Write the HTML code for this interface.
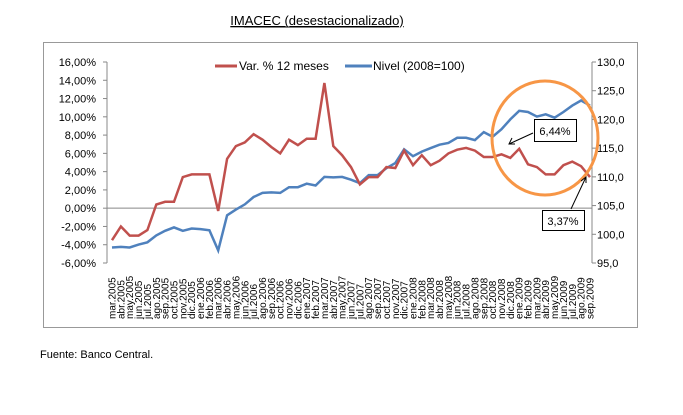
<!DOCTYPE html>
<html><head><meta charset="utf-8"><style>
body{margin:0;background:#fff;width:683px;height:410px;overflow:hidden;font-family:"Liberation Sans","DejaVu Sans",sans-serif}
</style></head><body>
<svg id="s" width="683" height="410" xmlns="http://www.w3.org/2000/svg" font-family="Liberation Sans, DejaVu Sans, sans-serif">
<text x="317" y="25" font-size="13" text-anchor="middle" text-decoration="underline">IMACEC (desestacionalizado)</text>
<line x1="244" y1="27" x2="390" y2="27" stroke="#000" stroke-width="1"/>
<rect x="43.5" y="42.5" width="594" height="285" fill="none" stroke="#999"/>
<text x="40" y="358" font-size="11">Fuente: Banco Central.</text>
<g id="g"></g>
</svg>
<script>
var g=document.getElementById('g'),NS='http://www.w3.org/2000/svg';
function el(t,a,txt){var e=document.createElementNS(NS,t);for(var k in a)e.setAttribute(k,a[k]);if(txt)e.textContent=txt;g.appendChild(e);return e;}
var L=107,R=592,T=62,B=263;
el('line',{x1:L,y1:T,x2:L,y2:B,stroke:'#888'});
el('line',{x1:R,y1:T,x2:R,y2:B,stroke:'#888'});
for(var i=0;i<12;i++){var v=16-2*i,y=T+(16-v)*(B-T)/22;
el('line',{x1:L-4,y1:y,x2:L,y2:y,stroke:'#888'});
el('text',{x:96,y:y+4,'font-size':11,'text-anchor':'end'},v.toFixed(2).replace('.',',')+'%');}
for(var i=0;i<8;i++){var v=130-5*i,y=T+(130-v)*(B-T)/35;
el('line',{x1:R,y1:y,x2:R+4,y2:y,stroke:'#888'});
el('text',{x:597,y:y+4,'font-size':11},v.toFixed(1).replace('.',','));}
var y0=T+16*(B-T)/22;el('line',{x1:L,y1:y0,x2:R,y2:y0,stroke:'#888'});
var m=['mar','abr','may','jun','jul','ago','sep','oct','nov','dic','ene','feb'];
var x0=112,dx=(590-112)/54;
for(var i=0;i<55;i++){var mi=i%12,yr=2005+Math.floor((i+2)/12);var x=x0+i*dx;
el('text',{transform:'translate('+(x+3.5)+',319) rotate(-90)','font-size':10},m[mi]+'.'+yr);}
var red=[-3.5,-2.0,-3.0,-3.0,-2.4,0.4,0.7,0.7,3.4,3.7,3.7,3.7,-0.3,5.4,6.8,7.2,8.1,7.5,6.7,6.0,7.5,6.9,7.6,7.6,13.7,6.8,5.8,4.5,2.6,3.4,3.4,4.5,4.4,6.3,4.7,5.8,4.7,5.2,6.0,6.4,6.6,6.3,5.6,5.6,5.9,5.5,6.5,4.8,4.5,3.7,3.7,4.7,5.1,4.6,4.5,3.4];
red.splice(54,1);
var blue=[97.7,97.8,97.7,98.2,98.6,99.8,100.6,101.2,100.6,101.0,100.9,100.7,97.2,103.3,104.3,105.2,106.5,107.2,107.3,107.2,108.2,108.2,108.8,108.5,110.0,109.9,110.0,109.5,108.9,110.3,110.3,111.5,112.4,114.8,113.6,114.4,115.0,115.6,115.9,116.8,116.8,116.4,117.8,117.0,118.3,120.0,121.5,121.3,120.5,120.9,120.3,121.3,122.4,123.3,122.4];
var pb=blue.map(function(v,i){return (x0+i*dx).toFixed(1)+','+(T+(130-v)*(B-T)/35).toFixed(1)}).join(' ');
var pr=red.map(function(v,i){return (x0+i*dx).toFixed(1)+','+(T+(16-v)*(B-T)/22).toFixed(1)}).join(' ');
el('polyline',{points:pb,fill:'none',stroke:'#4F81BD','stroke-width':2.5});
el('polyline',{points:pr,fill:'none',stroke:'#C0504D','stroke-width':2.5});
el('line',{x1:215,y1:66,x2:237,y2:66,stroke:'#C0504D','stroke-width':3});
el('text',{x:239,y:70,'font-size':12},'Var. % 12 meses');
el('line',{x1:345,y1:66,x2:372,y2:66,stroke:'#4F81BD','stroke-width':3});
el('text',{x:373,y:70,'font-size':12},'Nivel (2008=100)');
el('ellipse',{cx:545,cy:138,rx:53,ry:57,fill:'none',stroke:'#F79646','stroke-width':3});
el('rect',{x:534.5,y:119.5,width:42,height:22,fill:'#fff',stroke:'#000'});
el('text',{x:555,y:135,'font-size':11,'text-anchor':'middle'},'6,44%');
el('rect',{x:542.5,y:210.5,width:42,height:20,fill:'#fff',stroke:'#000'});
el('text',{x:563,y:225,'font-size':11,'text-anchor':'middle'},'3,37%');
el('line',{x1:533,y1:133,x2:509,y2:144,stroke:'#000'});
el('polyline',{points:'512,138 509,144 515,144',fill:'none',stroke:'#000'});
el('line',{x1:571,y1:209,x2:586,y2:177,stroke:'#000'});
el('polyline',{points:'581,181 586,177 586,183',fill:'none',stroke:'#000'});
</script>
</body></html>
